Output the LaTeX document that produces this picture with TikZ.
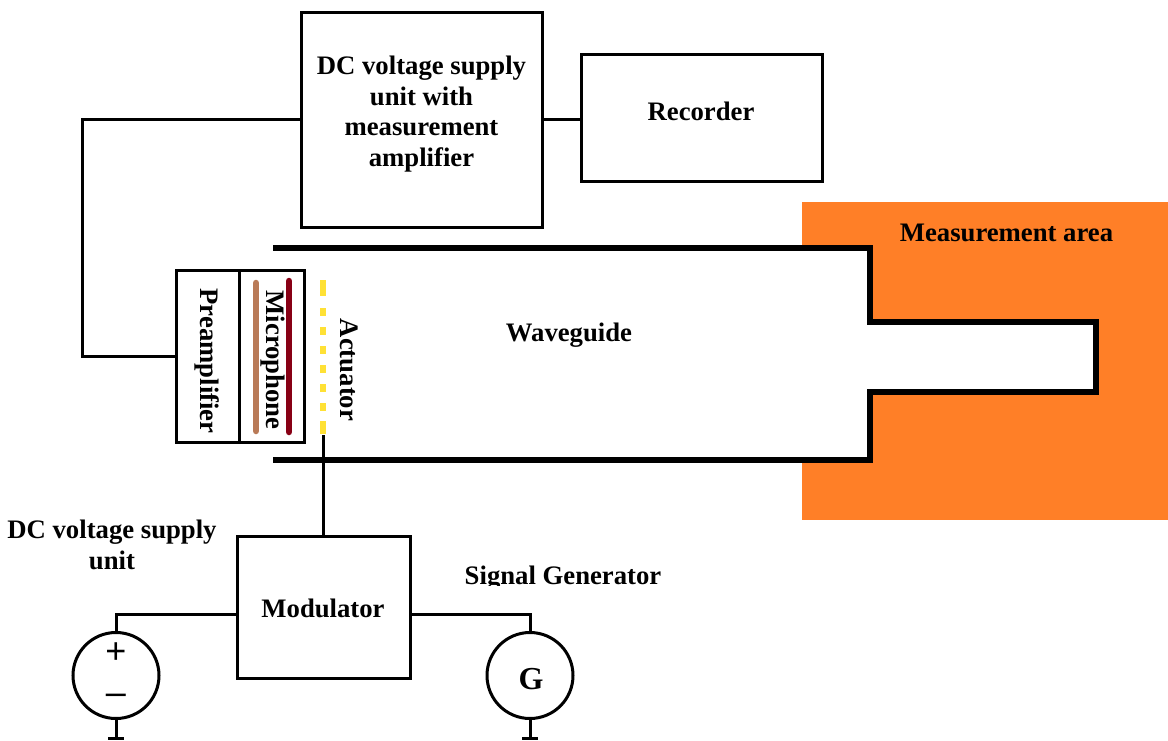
\documentclass[tikz,border=0pt]{standalone}
\usepackage{fontspec}
\setmainfont{Liberation Serif}
\newfontfamily\symfont{Liberation Sans}
\definecolor{areaorange}{HTML}{FF7F27}
\definecolor{actyellow}{HTML}{FFE135}
\definecolor{micbrown}{HTML}{B97A57}
\definecolor{micred}{HTML}{880015}
\tikzset{
  blockbox/.style={draw=black,line width=3pt,rectangle,inner sep=0pt,outer sep=0pt,fill=white},
  thinbox/.style={draw=black,line width=3pt,rectangle,inner sep=0pt,outer sep=0pt,fill=white},
  wire/.style={draw=black,line width=3pt},
  srcwire/.style={draw=black,line width=3pt},
  guide/.style={draw=black,line width=6.2pt,miter limit=10},
  lbl/.style={font=\fontsize{26.7}{30.7}\selectfont\bfseries,align=center,inner sep=0pt},
  source/.style={draw=black,line width=3pt,circle,minimum size=86pt,inner sep=0pt,outer sep=0pt},
  stripe/.style={line width=6.5pt,line cap=round},
  symb/.style={font=\fontsize{36}{36}\selectfont\symfont,inner sep=0pt}
}
\begin{document}
\begin{tikzpicture}[x=1pt,y=-1pt]
\useasboundingbox (0,0) rectangle (1168,740);
\fill[areaorange] (802,202) rectangle (1168,520);
\node[lbl] (areatext) at (1006.5,233) {Measurement area};
% waveguide
\fill[white] (273,248) -- (870,248) -- (870,322) -- (1096,322) -- (1096,392) -- (870,392) -- (870,460) -- (273,460) -- cycle;
\draw[guide] (273,248) -- (870,248) -- (870,322) -- (1096,322) -- (1096,392) -- (870,392) -- (870,460) -- (273,460);
\node[lbl] (wgtext) at (569,335.5) {Waveguide};
% top boxes
\node[blockbox,minimum width=241pt,minimum height=215pt] (dc) at (421.5,119.5) {};
\node[lbl] (dctext) at (421.5,114) {DC voltage supply\\unit with\\measurement\\amplifier};
\node[blockbox,minimum width=241pt,minimum height=127pt] (rec) at (701.5,117.5) {};
\node[lbl] (rectext) at (701,111) {Recorder};
% preamp + mic
\node[thinbox,minimum width=63pt,minimum height=172pt] (pre) at (207.5,356.5) {};
\node[thinbox,minimum width=65pt,minimum height=172pt] (mic) at (271.5,356.5) {};
\node[lbl,rotate=-90] (pretext) at (207,361) {Preamplifier};
\coordinate (browntop) at (256,283);
\coordinate (brownbot) at (256,431);
\draw[stripe,micbrown] (browntop) -- (brownbot);
\coordinate (redtop) at (289,281);
\coordinate (redbot) at (289,432);
\draw[stripe,micred] (redtop) -- (redbot);
\node[lbl,rotate=-90] (mictext) at (272.5,360) {Microphone};
% actuator
\foreach \a/\b in {280/296,308/316,327/335,346/354,365/373,384/392,403/411,421/434}
  \fill[actyellow] (319.7,\a) rectangle (326.3,\b);
\node[lbl,rotate=-90] (acttext) at (349,370) {Actuator};
% modulator
\node[blockbox,minimum width=173pt,minimum height=142pt] (mod) at (323.5,607) {};
\node[lbl] (modtext) at (323,608.5) {Modulator};
\coordinate (actend) at (323.5,435);
\draw[wire] (actend) -- (mod.north);
% wires top
\coordinate (bend) at (82,119.5);
\draw[wire] (dc.west) -- (bend) |- (pre.west);
\draw[wire] (dc.east) -- (dc.east -| rec.west);
% sources
\node[source] (vs) at (116,675.5) {};
\node[source] (gen) at (530,675.5) {};
\node[font=\fontsize{32}{32}\selectfont\bfseries,inner sep=0pt] (gtext) at (531,679) {G};
\node[symb] (plus) at (116,653) {+};
\node[symb] (minus) at (116,699) {–};
\coordinate (modl) at (237,614);
\coordinate (modr) at (410,614);
\draw[srcwire] (modl) -| (vs.north);
\draw[srcwire] (modr) -| (gen.north);
\coordinate (gl) at (116,738.5);
\coordinate (gr) at (530,738.5);
\draw[srcwire] (vs.south) -- (gl);
\draw[srcwire] (gen.south) -- (gr);
\draw[srcwire] ([xshift=-8pt]gl) -- ([xshift=8pt]gl);
\draw[srcwire] ([xshift=-8pt]gr) -- ([xshift=8pt]gr);
% labels
\node[lbl] (dcs) at (112,545) {DC voltage supply\\unit};
\begin{scope}
\clip (450,555) rectangle (680,585);
\node[lbl] (sig) at (563,578.5) {Signal Generator};
\end{scope}
\end{tikzpicture}
\end{document}
